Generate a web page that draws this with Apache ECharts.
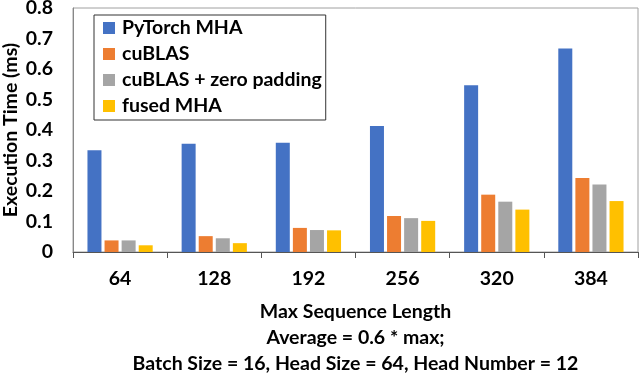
<!DOCTYPE html>
<html>
<head>
<meta charset="utf-8">
<script src="https://cdn.jsdelivr.net/npm/echarts@6/dist/echarts.min.js"></script>
<style>html,body{margin:0;padding:0;background:#fff}#c{width:640px;height:374px}</style>
</head>
<body>
<div id="c"></div>
<script>
const categories = ['64', '128', '192', '256', '320', '384'];
const pytorchMHA = [0.334, 0.355, 0.358, 0.413, 0.547, 0.667];
const cublas = [0.038, 0.052, 0.079, 0.118, 0.188, 0.243];
const cublasZeroPad = [0.038, 0.045, 0.072, 0.111, 0.165, 0.221];
const fusedMHA = [0.022, 0.029, 0.071, 0.102, 0.139, 0.167];
const seriesNames = ['PyTorch MHA', 'cuBLAS', 'cuBLAS + zero padding', 'fused MHA'];
const xTitle = 'Max Sequence Length\nAverage = 0.6 * max;\nBatch Size = 16, Head Size = 64, Head Number = 12';
const yTitle = 'Execution Time (ms)';

const FONT = 'Lato';
const FS = 19.5;
const colors = ['#4472C4', '#ED7D31', '#A5A5A5', '#FFC000'];
const data = [pytorchMHA, cublas, cublasZeroPad, fusedMHA];

const chart = echarts.init(document.getElementById('c'));
chart.setOption({
  animation: false,
  color: colors,
  textStyle: { fontFamily: FONT },
  grid: { left: 73, right: 2, top: 8, bottom: 122, show: true, borderColor: '#a0a0a0', borderWidth: 1, containLabel: false, outerBoundsMode: 'none' },
  legend: {
    orient: 'vertical', left: 94, top: 15,
    padding: [3, 4, 4, 9],
    itemWidth: 12, itemHeight: 12, itemGap: 6,
    icon: 'rect',
    borderColor: '#333', borderWidth: 1,
    textStyle: { fontFamily: FONT, fontWeight: 'bold', fontSize: FS, color: '#000', lineHeight: 20, padding: [0, 0, 0, 2] },
    data: seriesNames
  },
  xAxis: {
    type: 'category', data: categories,
    axisLine: { lineStyle: { color: '#555', width: 1 } },
    axisTick: { show: true, length: 6, lineStyle: { color: '#555' } },
    axisLabel: { fontFamily: FONT, fontWeight: 'bold', fontSize: FS, color: '#000', margin: 17 },
    name: xTitle, nameLocation: 'middle', nameGap: 47, nameMoveOverlap: false,
    nameTextStyle: { fontFamily: FONT, fontWeight: 'bold', fontSize: FS, color: '#000', lineHeight: 26 }
  },
  yAxis: {
    type: 'value', min: 0, max: 0.8, interval: 0.1,
    axisLine: { show: true, lineStyle: { color: '#888' } },
    axisTick: { show: false },
    splitLine: { show: false },
    axisLabel: { fontFamily: FONT, fontWeight: 'bold', fontSize: FS, color: '#000', margin: 20 },
    name: yTitle, nameLocation: 'middle', nameGap: 52, nameRotate: 90, nameMoveOverlap: false,
    nameTextStyle: { fontFamily: FONT, fontWeight: 'bold', fontSize: FS, color: '#000' }
  },
  series: seriesNames.map((n, i) => ({
    name: n, type: 'bar', data: data[i], barWidth: 14, barGap: '22%',
    itemStyle: { color: colors[i] }
  }))
});
</script>
</body>
</html>
